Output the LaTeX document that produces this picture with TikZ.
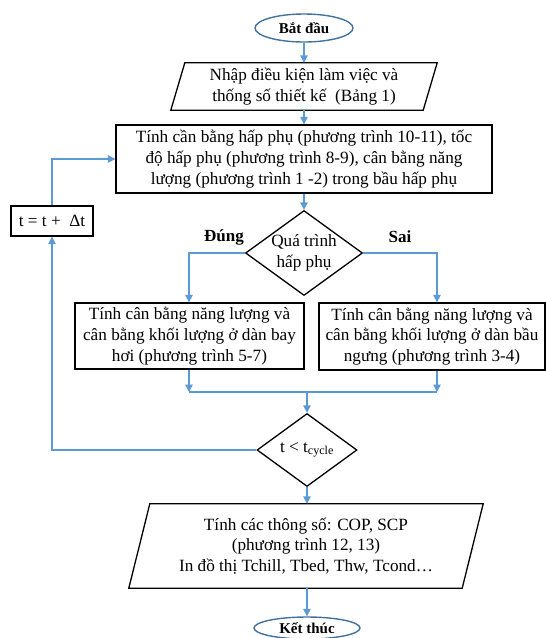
\documentclass[tikz,border=0pt]{standalone}
\usepackage{fontspec}
\setmainfont{Liberation Serif}
\usetikzlibrary{shapes.geometric,arrows.meta,calc}
\definecolor{arrowblue}{HTML}{5B9BD5}
\definecolor{ellblue}{HTML}{41719C}
\begin{document}
\begin{tikzpicture}[x=1pt,y=-1pt,
  every node/.style={font=\fontsize{17.2}{20.7}\selectfont, align=center, inner sep=0pt},
  box/.style={draw, line width=1.3pt, rectangle},
  term/.style={draw=ellblue, line width=1.4pt, ellipse, font=\fontsize{15}{18}\selectfont\bfseries},
  dec/.style={draw, line width=1.3pt, diamond},
  conn/.style={draw=arrowblue, line width=1.4pt, -{Triangle[width=7.5pt,length=7.5pt]}},
  plainline/.style={draw=arrowblue, line width=1.4pt},
  lbl/.style={font=\fontsize{17}{20}\selectfont\bfseries}
]
\useasboundingbox (0,0) rectangle (546,638);
\clip (0,0) rectangle (546,638);

\node[term, minimum width=98, minimum height=28] (start) at (304,28) {Bắt đầu};

\node[minimum width=266, minimum height=47] (input) at (304,86.5) {Nhập điều kiện làm việc và\\thống số thiết kế\ \ (Bảng 1)};
\draw[box] ([xshift=14pt]input.north west) -- (input.north east) -- ([xshift=-14pt]input.south east) -- (input.south west) -- cycle;

\node[box, minimum width=376, minimum height=68] (calc) at (304,159) {Tính cần bằng hấp phụ (phương trình 10-11), tốc\\độ hấp phụ (phương trình 8-9), cân bằng năng\\lượng (phương trình 1 -2) trong bầu hấp phụ};

\node[box, minimum width=82, minimum height=30] (inc) at (52,221) {t = t +\ \ Δt};

\node[dec, minimum width=117, minimum height=85] (d1) at (304,253) {};
\node (d1t) at (d1.center) {Quá trình\\hấp phụ};

\node[lbl] (yes) at (224,237) {Đúng};
\node[lbl] (no) at (400,237) {Sai};

\node[box, minimum width=229, minimum height=66] (evap) at (189.5,336) {Tính cân bằng năng lượng và\\cân bằng khối lượng ở dàn bay\\hơi (phương trình 5-7)};
\node[box, minimum width=226, minimum height=67] (cond) at (432,336.5) {Tính cân bằng năng lượng và\\cân bằng khối lượng ở dàn bầu\\ngưng (phương trình 3-4)};

\node[dec, minimum width=100, minimum height=73] (d2) at (307,450) {};
\node (d2t) at (d2.center) {t < t\textsubscript{cycle}};

\node[minimum width=354, minimum height=84] (out) at (306,546) {Tính các thông số: COP, SCP\\(phương trình 12, 13)\\In đồ thị Tchill, Tbed, Thw, Tcond…};
\draw[box] ([xshift=21pt]out.north west) -- (out.north east) -- ([xshift=-21pt]out.south east) -- (out.south west) -- cycle;

\node[term, minimum width=106, minimum height=22] (end) at (307,628) {Kết thúc};

\coordinate (lb) at (189,392);
\coordinate (rb) at (437,392);
\coordinate (mid) at (307,392);

\draw[conn] (start.south) -- (input.north);
\draw[conn] (input.south) -- (calc.north);
\draw[conn] (calc.south) -- (d1.north);
\draw[conn] (d1.west) -| (lb |- evap.north);
\draw[conn] (d1.east) -| (rb |- cond.north);
\draw[conn] (lb |- evap.south) -- (lb);
\draw[conn] (rb |- cond.south) -- (rb);
\draw[plainline] (lb) -- (rb);
\draw[conn] (mid) -- (d2.north);
\draw[conn] (d2.west) -| (inc.south);
\draw[conn] (inc.north) |- (calc.west);
\draw[conn] (d2.south) -- (d2.south |- out.north);
\draw[conn] (out.south -| end.north) -- (end.north);
\end{tikzpicture}
\end{document}
